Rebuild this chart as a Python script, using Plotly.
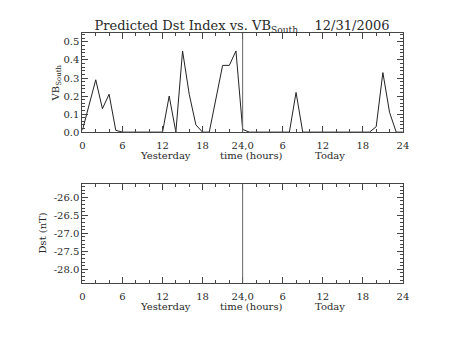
import plotly.graph_objects as go

# Hourly VB_South, yesterday (0-23) and today (24-48)
hours = list(range(49))
vb_south = [0.01, 0.15, 0.29, 0.13, 0.21, 0.01, 0.0, 0.0, 0.0, 0.0,
            0.0, 0.0, 0.0, 0.20, 0.0, 0.45, 0.21, 0.04, 0.0, 0.0,
            0.19, 0.37, 0.37, 0.45, 0.015, 0.0, 0.0, 0.0, 0.0, 0.0,
            0.0, 0.0, 0.22, 0.0, 0.0, 0.0, 0.0, 0.0, 0.0, 0.0,
            0.0, 0.0, 0.0, 0.0, 0.03, 0.33, 0.11, 0.0, 0.0]

x_tickvals = [0, 6, 12, 18, 24, 30, 36, 42, 48]
x_ticktext = ["0", "6", "12", "18", "24,0", "6", "12", "18", "24"]

vb_tickvals = [0.0, 0.1, 0.2, 0.3, 0.4, 0.5]
vb_ticktext = ["0.0", "0.1", "0.2", "0.3", "0.4", "0.5"]

dst_tickvals = [-28.0, -27.5, -27.0, -26.5, -26.0]
dst_ticktext = ["-28.0", "-27.5", "-27.0", "-26.5", "-26.0"]

FONT = "DejaVu Serif"
INK = "#2a2a2a"
AXIS = "#444444"
W, H = 453, 340

fig = go.Figure()
fig.add_trace(go.Scatter(x=hours, y=vb_south, mode="lines",
                         line=dict(color="#222222", width=1),
                         xaxis="x", yaxis="y", showlegend=False,
                         hoverinfo="skip"))
fig.add_trace(go.Scatter(x=[], y=[], mode="lines", xaxis="x2", yaxis="y2",
                         showlegend=False))

xdom = [81 / W, 408 / W]
top_dom = [1 - 134.5 / H, 1 - 33.5 / H]
bot_dom = [1 - 288 / H, 1 - 187 / H]


def xaxis_style(anchor):
    return dict(domain=xdom, anchor=anchor, range=[0, 48],
                tickvals=x_tickvals, ticktext=x_ticktext,
                ticks="inside", ticklen=6, tickcolor=AXIS,
                ticklabelstandoff=4,
                minor=dict(dtick=2, tick0=0, ticks="inside", ticklen=3,
                           tickcolor=AXIS),
                showline=True, linecolor=AXIS, linewidth=1,
                mirror="allticks", showgrid=False, zeroline=False,
                tickfont=dict(family=FONT, size=10, color=INK))


def yaxis_style(anchor, dom, rng, tv, tt, minor_step):
    return dict(domain=dom, anchor=anchor, range=rng,
                tickvals=tv, ticktext=tt,
                ticks="inside", ticklen=6, tickcolor=AXIS,
                minor=dict(dtick=minor_step, ticks="inside", ticklen=3,
                           tickcolor=AXIS),
                showline=True, linecolor=AXIS, linewidth=1,
                mirror="allticks", showgrid=False, zeroline=False,
                tickfont=dict(family=FONT, size=10, color=INK))


fig.update_layout(
    width=W, height=H,
    margin=dict(l=0, r=0, t=0, b=0),
    paper_bgcolor="white", plot_bgcolor="white",
    xaxis=xaxis_style("y"),
    yaxis=yaxis_style("x", top_dom, [0, 0.55], vb_tickvals, vb_ticktext, 0.02),
    xaxis2=xaxis_style("y2"),
    yaxis2=yaxis_style("x2", bot_dom, [-28.38, -25.62], dst_tickvals,
                       dst_ticktext, 0.1),
    title=dict(text="Predicted Dst Index vs. VB<sub>South</sub>\u00a0\u00a0\u00a0\u00a012/31/2006",
               x=242 / W, xanchor="center", y=1 - 31 / H, yanchor="bottom",
               yref="paper",
               font=dict(family=FONT, size=13, color=INK)),
)

# Divider between yesterday and today
for xr, yr in (("x", "y domain"), ("x2", "y2 domain")):
    fig.add_shape(type="line", xref=xr, yref=yr, x0=24, x1=24, y0=0, y1=1,
                  line=dict(color="#666666", width=1))

lab_font = dict(family=FONT, size=10, color=INK)
for xr, ypix in (("x", 158), ("x2", 312)):
    for xpos, txt in ((12.5, "Yesterday"), (25.3, "time (hours)"), (37.1, "Today")):
        fig.add_annotation(x=xpos, xref=xr, y=1 - ypix / H, yref="paper",
                           text=txt, showarrow=False, font=lab_font,
                           xanchor="center", yanchor="middle")

fig.add_annotation(x=55 / W, xref="paper", y=(top_dom[0] + top_dom[1]) / 2,
                   yref="paper", text="VB<sub>South</sub>", textangle=-90,
                   showarrow=False, font=lab_font,
                   xanchor="center", yanchor="middle")
fig.add_annotation(x=40 / W, xref="paper", y=(bot_dom[0] + bot_dom[1]) / 2,
                   yref="paper", text="Dst (nT)", textangle=-90,
                   showarrow=False, font=lab_font,
                   xanchor="center", yanchor="middle")

fig.write_html("out.html")
